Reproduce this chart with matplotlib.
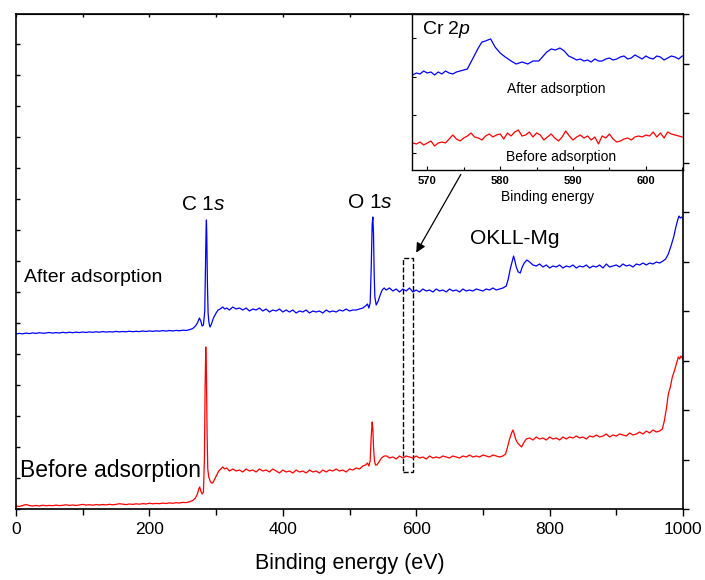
import matplotlib
matplotlib.use('Agg')
import matplotlib.pyplot as plt
from matplotlib.ticker import MultipleLocator, FixedLocator, NullFormatter

plt.rcParams['font.family'] = ['Liberation Sans', 'DejaVu Sans']
plt.rcParams['mathtext.fontset'] = 'custom'
plt.rcParams['mathtext.rm'] = 'Liberation Sans'
plt.rcParams['mathtext.it'] = 'Liberation Sans:italic'

# survey spectra (binding energy in eV, intensity in arbitrary units)
after_x = [0, 5, 10, 15, 20, 25, 30, 35, 40, 45, 50, 55, 60, 65, 70, 75, 80, 85, 90, 95,
           100, 105, 110, 115, 120, 125, 130, 135, 140, 145, 150, 155, 160, 165, 170, 175,
           180, 185, 190, 195, 200, 205, 210, 215, 220, 225, 230, 235, 240, 245, 250, 255,
           260, 265, 269, 272, 275, 277, 279, 281, 283, 284, 285, 285.5, 286, 287, 288, 289,
           290, 291, 293, 296, 300, 303, 306, 310, 313, 316, 320, 325, 330, 335, 340, 345,
           350, 355, 360, 365, 370, 375, 380, 385, 390, 395, 400, 405, 410, 415, 420, 425,
           430, 435, 440, 445, 450, 455, 460, 465, 470, 475, 480, 485, 490, 495, 500, 505,
           510, 515, 520, 524, 527, 529, 531, 532.5, 534, 535, 536, 537, 538, 540, 543, 546,
           549, 552, 555, 560, 565, 570, 575, 580, 585, 590, 595, 600, 605, 610, 615, 620,
           625, 630, 635, 640, 645, 650, 655, 660, 665, 670, 675, 680, 685, 690, 695, 700,
           705, 710, 715, 720, 725, 730, 735, 738, 741, 744, 746, 748, 750, 753, 756, 759,
           762, 766, 770, 775, 780, 785, 790, 795, 800, 805, 810, 815, 820, 825, 830, 835,
           840, 845, 850, 855, 860, 865, 870, 875, 880, 885, 890, 895, 900, 905, 910, 915,
           920, 925, 930, 935, 940, 945, 950, 955, 960, 965, 970, 974, 978, 982, 986, 989,
           992, 994, 996, 998, 1000]
after_y = [175.0, 175.6, 175.2, 175.9, 175.4, 176.1, 175.6, 176.3, 175.8, 176.0, 176.5, 175.9,
           176.4, 176.0, 176.7, 176.2, 176.8, 176.3, 176.9, 176.4, 177.0, 176.5, 177.1, 176.7,
           177.2, 176.8, 177.4, 176.9, 177.3, 177.0, 177.6, 177.1, 177.5, 177.2, 177.8, 177.3,
           177.7, 177.4, 178.0, 177.5, 178.1, 177.6, 178.2, 177.8, 178.4, 177.9, 178.5, 178.0,
           178.6, 178.2, 178.8, 178.5, 179.3, 180.5, 183, 186, 191, 188, 183, 184, 198, 240,
           280, 289, 275, 225, 196, 188, 184, 182, 185, 191, 196, 199, 200, 202, 200, 201,
           199, 202, 200, 201, 199, 201, 198, 200, 199, 201, 198, 200, 197, 199, 198, 200,
           197, 199, 197, 199, 196, 198, 197, 199, 196, 198, 197, 198, 196, 199, 197, 198,
           197, 199, 198, 200, 198, 199, 199, 200, 201, 203, 205, 201, 206, 240, 285, 292,
           275, 235, 212, 204, 208, 214, 219, 221, 219, 221, 218, 220, 217, 220, 218, 221,
           217, 219, 217, 220, 218, 219, 217, 220, 218, 219, 217, 220, 218, 219, 217, 220,
           218, 219, 218, 220, 219, 218, 220, 219, 221, 219, 220, 221, 223, 230, 240, 248,
           253, 248, 242, 237, 236, 242, 246, 249, 247, 244, 243, 245, 242, 244, 241, 243,
           242, 244, 241, 243, 242, 244, 241, 243, 242, 244, 241, 243, 242, 244, 241, 245,
           242, 243, 244, 242, 245, 243, 244, 242, 245, 244, 246, 244, 246, 245, 247, 246,
           248, 250, 255, 263, 272, 281, 289, 293, 291, 292, 290]

before_x = [0, 5, 10, 15, 20, 25, 30, 35, 40, 45, 50, 55, 60, 65, 70, 75, 80, 85, 90, 95,
            100, 105, 110, 115, 120, 125, 130, 135, 140, 145, 150, 155, 160, 165, 170, 175,
            180, 185, 190, 195, 200, 205, 210, 215, 220, 225, 230, 235, 240, 245, 250, 255,
            260, 265, 269, 272, 274, 275.5, 277, 279, 281, 282.5, 283.5, 284.5, 285.5, 286.5,
            287.5, 289, 291, 293, 295, 298, 301, 304, 307, 310, 313, 316, 320, 325, 330, 335,
            340, 345, 350, 355, 360, 365, 370, 375, 380, 385, 390, 395, 400, 405, 410, 415,
            420, 425, 430, 435, 440, 445, 450, 455, 460, 465, 470, 475, 480, 485, 490, 495,
            500, 505, 510, 515, 520, 524, 527, 529, 531, 532.5, 534, 535, 536, 537.5, 539, 541,
            544, 548, 552, 556, 560, 565, 570, 575, 580, 585, 590, 595, 600, 605, 610, 615,
            620, 625, 630, 635, 640, 645, 650, 655, 660, 665, 670, 675, 680, 685, 690, 695,
            700, 705, 710, 715, 720, 725, 730, 734, 737, 740, 743, 745, 747, 749, 752, 755,
            758, 761, 765, 770, 775, 780, 785, 790, 795, 800, 805, 810, 815, 820, 825, 830,
            835, 840, 845, 850, 855, 860, 865, 870, 875, 880, 885, 890, 895, 900, 905, 910,
            915, 920, 925, 930, 935, 940, 945, 950, 955, 960, 965, 969, 972, 975, 978, 981,
            984, 987, 990, 993, 995, 997, 1000]
before_y = [3, 2.5, 3.5, 4.5, 3.5, 3, 3.5, 3, 3.8, 3.2, 3.6, 3.3, 3.9, 3.4, 3.7, 4.2, 3.6,
            4.0, 3.5, 4.1, 4.6, 3.9, 4.3, 3.8, 4.4, 4.0, 4.5, 4.1, 4.7, 4.2, 4.6, 5.3, 4.8,
            4.4, 5.0, 4.6, 5.2, 4.8, 5.4, 5.0, 5.8, 5.2, 5.6, 5.3, 5.9, 5.5, 6.1, 5.7, 6.3,
            6.0, 6.6, 6.4, 7.2, 8.5, 11, 15, 20, 22, 18, 15, 17, 50, 120, 162, 135, 75, 40,
            32, 28, 26, 26, 30, 34, 38, 40, 42, 40, 41, 38, 40, 38, 39, 37, 40, 38, 39, 37,
            40, 38, 39, 37, 40, 38, 36, 39, 37, 38, 36, 39, 37, 38, 36, 39, 37, 38, 36, 39,
            37, 39, 38, 40, 38, 39, 37, 40, 39, 41, 40, 43, 44, 46, 43, 48, 72, 87, 80, 62,
            48, 44, 44, 47, 51, 53, 53, 51, 52, 50, 53, 51, 53, 52, 51, 53, 51, 52, 50, 53,
            51, 52, 51, 53, 52, 51, 53, 52, 51, 53, 52, 54, 52, 53, 52, 54, 53, 52, 54, 53,
            52, 53, 55, 62, 70, 76, 79, 75, 70, 66, 64, 62, 66, 70, 71, 69, 72, 70, 71, 69,
            72, 70, 71, 69, 72, 70, 72, 71, 73, 71, 72, 70, 73, 72, 74, 72, 73, 75, 72, 74,
            73, 75, 74, 73, 76, 74, 75, 77, 75, 78, 76, 79, 77, 78, 80, 88, 100, 115, 122,
            132, 138, 145, 152, 150, 153, 150]

# Cr 2p region (inset)
cr_after_x = [568, 568.5, 569, 569.5, 570, 570.5, 571, 571.5, 572, 572.5, 573, 573.5, 574,
              574.5, 575, 575.5, 576, 576.5, 577, 577.5, 578, 578.3, 578.7, 579.3, 580, 580.7,
              581.5, 582.2, 583, 583.8, 584.5, 585.3, 585.8, 586.4, 587, 587.6, 588.2, 588.8,
              589.4, 590, 590.5, 591, 591.5, 592, 592.5, 593, 593.5, 594, 594.5, 595, 595.5,
              596, 596.5, 597, 597.5, 598, 598.5, 599, 599.5, 600, 600.5, 601, 601.5, 602,
              602.5, 603, 603.5, 604, 604.5, 605]
cr_after_y = [95, 97, 96, 99, 97, 98, 95, 98, 96, 99, 97, 96, 98, 99, 100, 101, 108, 115, 122,
              128, 129, 130, 131, 123, 117, 113, 109, 106, 108, 106, 109, 109, 113, 118, 121,
              120, 122, 119, 114, 112, 110, 111, 109, 110, 108, 111, 109, 109, 111, 112, 110,
              111, 113, 114, 111, 112, 115, 113, 111, 114, 112, 111, 114, 113, 110, 112, 114,
              113, 111, 114]
cr_before_x = [568, 568.5, 569, 569.5, 570, 570.5, 571, 571.5, 572, 572.5, 573, 573.5, 574,
               574.5, 575, 575.5, 576, 576.5, 577, 577.5, 578, 578.5, 579, 579.5, 580, 580.5,
               581, 581.5, 582, 582.5, 583, 583.5, 584, 584.5, 585, 585.5, 586, 586.5, 587,
               587.5, 588, 588.5, 589, 589.5, 590, 590.5, 591, 591.5, 592, 592.5, 593, 593.5,
               594, 594.5, 595, 595.5, 596, 596.5, 597, 597.5, 598, 598.5, 599, 599.5, 600,
               600.5, 601, 601.5, 602, 602.5, 603, 603.5, 604, 604.5, 605]
cr_before_y = [27, 26, 28, 25, 27, 29, 24, 27, 28, 27, 31, 35, 31, 29, 32, 34, 37, 33, 32, 30,
               34, 36, 33, 35, 36, 31, 37, 34, 38, 40, 34, 35, 38, 33, 37, 35, 30, 33, 36, 32,
               29, 33, 39, 34, 30, 33, 35, 32, 34, 30, 33, 26, 34, 32, 36, 31, 28, 29, 31, 32,
               30, 33, 34, 33, 35, 34, 38, 33, 37, 32, 38, 36, 35, 34, 33]

fig = plt.figure(figsize=(7.05, 5.8), dpi=100)
ax = fig.add_axes([16/705, 71/580, 667/705, 495/580])

ax.plot(after_x, after_y, color='#0000ff', lw=0.9)
ax.plot(before_x, before_y, color='#ff0000', lw=0.9)

ax.set_xlim(0, 1000)
ax.set_ylim(0, 495)
ax.xaxis.set_major_locator(MultipleLocator(200))
ax.xaxis.set_minor_locator(MultipleLocator(100))
ax.tick_params(axis='x', which='major', direction='out', length=5, width=1, labelsize=12.5, pad=4)
ax.tick_params(axis='x', which='minor', direction='out', length=4, width=1)
ax.yaxis.set_major_locator(FixedLocator([31 * i for i in range(16)]))
ax.yaxis.set_major_formatter(NullFormatter())
ax.tick_params(axis='y', which='both', direction='in', length=3, width=1)
ax.set_xlabel('Binding energy (eV)', fontsize=15.5, labelpad=12)
for s in ax.spines.values():
    s.set_linewidth(1.2)

# right and top tick marks
ax_r = ax.twinx()
ax_r.set_ylim(0, 495)
ax_r.yaxis.set_major_locator(FixedLocator([49.5 * i for i in range(11)]))
ax_r.yaxis.set_major_formatter(NullFormatter())
ax_r.tick_params(axis='y', direction='out', length=4, width=1)
for s in ax_r.spines.values():
    s.set_visible(False)
ax_t = ax.secondary_xaxis('top')
ax_t.xaxis.set_major_locator(MultipleLocator(100))
ax_t.xaxis.set_major_formatter(NullFormatter())
ax_t.tick_params(direction='in', length=2, width=1)

# peak labels
ax.text(280, 305, 'C 1$\\mathit{s}$', fontsize=15, ha='center', va='center')
ax.text(531, 306, 'O 1$\\mathit{s}$', fontsize=15, ha='center', va='center')
ax.text(748, 271, 'OKLL-Mg', fontsize=15, ha='center', va='center')
ax.text(115, 232, 'After adsorption', fontsize=14, ha='center', va='center')
ax.text(141, 38, 'Before adsorption', fontsize=16.5, ha='center', va='center')

# dashed box around Cr 2p region and arrow to inset
ax.add_patch(plt.Rectangle((580, 37), 15, 214, fill=False, ls='--', lw=1, color='black'))
ax.annotate('', xy=(598, 254), xytext=(669, 337),
            arrowprops=dict(arrowstyle='-|>', color='black', lw=0.9, mutation_scale=14))

# inset
axi = fig.add_axes([412/705, 410/580, 271/705, 156/580])
axi.plot(cr_after_x, cr_after_y, color='#0000ff', lw=0.9)
axi.plot(cr_before_x, cr_before_y, color='#ff0000', lw=0.9)
axi.set_xlim(567.9, 605.1)
axi.set_ylim(0, 156)
axi.xaxis.set_major_locator(MultipleLocator(10))
axi.xaxis.set_minor_locator(MultipleLocator(5))
axi.tick_params(axis='x', which='major', direction='in', length=3, width=0.8, labelsize=8, pad=4)
axi.tick_params(axis='x', which='minor', direction='in', length=2, width=0.8)
for lab in axi.get_xticklabels():
    lab.set_fontweight('bold')
axi.yaxis.set_major_locator(FixedLocator([17, 55, 93, 132]))
axi.yaxis.set_major_formatter(NullFormatter())
axi.tick_params(axis='y', direction='in', length=3, width=0.8)
axi.set_xlabel('Binding energy', fontsize=10, labelpad=3)
for s in axi.spines.values():
    s.set_linewidth(1)
axi.text(569.3, 140, 'Cr 2$\\mathit{p}$', fontsize=14, ha='left', va='center')
axi.text(587.7, 81, 'After adsorption', fontsize=10, ha='center', va='center')
axi.text(588.4, 13, 'Before adsorption', fontsize=10, ha='center', va='center')

fig.savefig('out.png', dpi=100)
